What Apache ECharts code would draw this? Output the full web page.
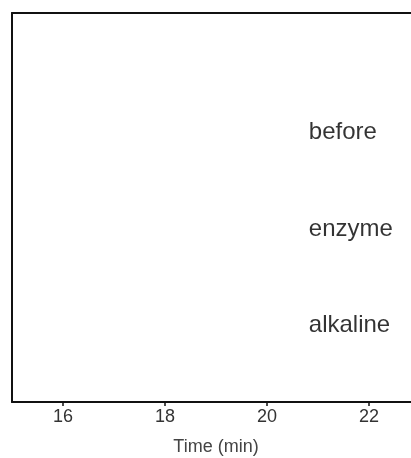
<!DOCTYPE html>
<html><head><meta charset="utf-8">
<script src="https://cdn.jsdelivr.net/npm/echarts@6/dist/echarts.min.js"></script>
<style>html,body{margin:0;padding:0;background:#fff}#c{width:411px;height:458px}</style>
</head><body><div id="c"></div>
<script>
var xTicks = [16, 18, 20, 22];
var labelNames = ["before", "enzyme", "alkaline"];
var labelX = [20.82, 20.82, 20.82];
var labelY = [0.694, 0.445, 0.198];

var chart = echarts.init(document.getElementById('c'));
chart.setOption({
  animation: false,
  backgroundColor: '#fff',
  grid: {left: 12, top: 13, width: 408, height: 389, outerBoundsMode: 'none', containLabel: false, show: false},
  xAxis: [{
    type: 'value', min: 15, max: 23, interval: 1, position: 'bottom',
    name: 'Time (min)', nameLocation: 'middle', nameGap: 36,
    nameTextStyle: {fontFamily: 'Liberation Sans', fontSize: 18, color: '#444'},
    axisLine: {show: true, onZero: false, lineStyle: {color: '#111', width: 2}},
    axisTick: {show: true, length: 4, lineStyle: {color: '#111', width: 1.5},
      customValues: xTicks},
    axisLabel: {fontFamily: "'Liberation Sans Narrow', 'Liberation Sans'", fontSize: 18, color: '#333', margin: 6,
      customValues: xTicks},
    splitLine: {show: false}
  }, {
    type: 'value', min: 15, max: 23, position: 'top',
    axisLine: {show: true, onZero: false, lineStyle: {color: '#111', width: 2}},
    axisTick: {show: false}, axisLabel: {show: false}, splitLine: {show: false}
  }],
  yAxis: {
    type: 'value', min: 0, max: 1,
    axisLine: {show: true, onZero: false, lineStyle: {color: '#111', width: 2}},
    axisTick: {show: false}, axisLabel: {show: false}, splitLine: {show: false}
  },
  series: [{
    type: 'scatter', symbolSize: 0, xAxisIndex: 0,
    data: labelNames.map(function(n, i){ return {name: n, value: [labelX[i], labelY[i]]}; }),
    label: {show: true, position: 'right', distance: 0, formatter: '{b}',
      fontFamily: 'Liberation Sans', fontSize: 24, color: '#000'}
  }]
});
</script></body></html>
